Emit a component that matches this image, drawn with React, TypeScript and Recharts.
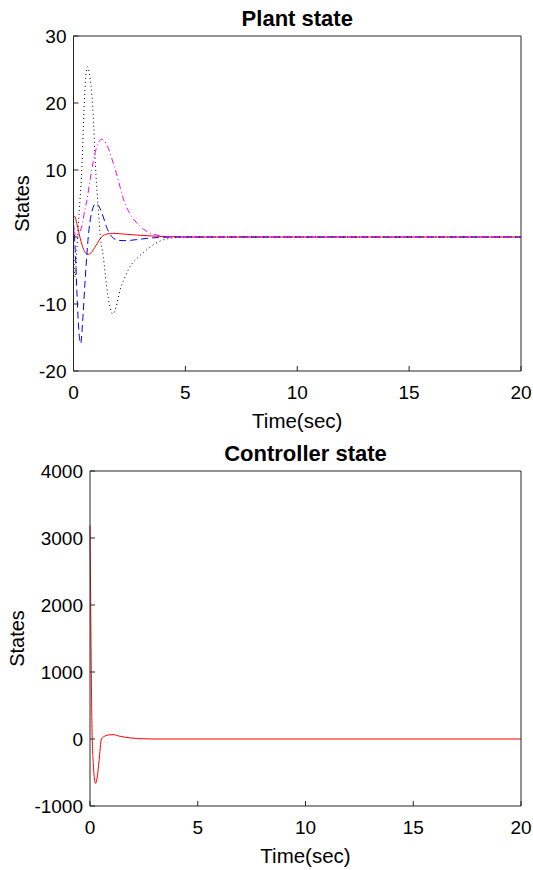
import { LineChart, Line, XAxis, YAxis } from "recharts";

const xTicks = [0, 5, 10, 15, 20];
const plantTicks = [-20, -10, 0, 10, 20, 30];
const ctrlTicks = [-1000, 0, 1000, 2000, 3000, 4000];

// plant state
const redT = [0, 0.07, 0.15, 0.25, 0.3, 0.4, 0.5, 0.65, 0.8, 1.0, 1.25, 1.5, 1.8, 2.2, 2.8, 3.5, 4.2, 5, 20];
const redV = [3.2, 3.0, 2.0, 0.5, -0.2, -1.4, -2.2, -2.6, -2.3, -1.3, 0, 0.45, 0.55, 0.45, 0.3, 0.15, 0.05, 0, 0];

const blueT = [0, 0.08, 0.15, 0.22, 0.32, 0.42, 0.51, 0.66, 0.8, 1.0, 1.15, 1.33, 1.5, 1.7, 2.0, 2.3, 2.8, 3.3, 3.8, 4.5, 20];
const blueV = [2, -2, -8, -13, -15.9, -12, -7, 0, 3.5, 5.0, 4.5, 3, 1.3, 0.1, -0.5, -0.55, -0.4, -0.2, -0.08, 0, 0];

const magT = [0, 0.1, 0.2, 0.3, 0.4, 0.5, 0.6, 0.74, 0.96, 1.1, 1.26, 1.45, 1.78, 2.0, 2.2, 2.5, 2.8, 3.2, 3.7, 4.5, 20];
const magV = [1, 0.3, 0.2, 0.8, 2, 4, 5.5, 8.5, 12.5, 14, 14.6, 14, 11, 8.5, 6, 3.6, 2.2, 1.0, 0.3, 0, 0];

const blackT = [0, 0.07, 0.15, 0.22, 0.3, 0.37, 0.47, 0.55, 0.63, 0.7, 0.86, 1.0, 1.1, 1.2, 1.33, 1.48, 1.63, 1.75, 1.9, 2.08, 2.3, 2.53, 2.9, 3.27, 3.87, 4.3, 5, 20];
const blackV = [-1, -6, -2, 2, 6, 10, 19, 24, 25.4, 24.5, 19.4, 9.5, 4.5, 0, -2.9, -7.4, -10.4, -11.5, -10.5, -7.9, -6, -4.4, -3, -1.9, -0.6, -0.2, 0, 0];

// controller state
const ctrlT = [0, 0.025, 0.05, 0.075, 0.1, 0.15, 0.2, 0.26, 0.33, 0.42, 0.53, 0.7, 0.9, 1.07, 1.4, 1.9, 2.5, 3, 20];
const ctrlV = [3187, 2300, 1300, 550, 50, -350, -580, -662, -580, -330, 0, 45, 62, 65, 40, 15, 3, 0, 0];

const toPoints = (ts: number[], vs: number[]) => ts.map((t, i) => ({ t, v: vs[i] }));

const plantSeries = [
  { key: "x1", data: toPoints(redT, redV), color: "#ff0000", dash: undefined },
  { key: "x2", data: toPoints(blueT, blueV), color: "#0000ff", dash: "7 4" },
  { key: "x3", data: toPoints(blackT, blackV), color: "#000000", dash: "1 3" },
  { key: "x4", data: toPoints(magT, magV), color: "#ff00ff", dash: "6 3 1 3" },
];

const ctrlSeries = [{ key: "xc", data: toPoints(ctrlT, ctrlV), color: "#ff0000", dash: undefined }];

const axisColor = "#262626";
const font = "'Liberation Sans', Arial, sans-serif";
const tickStyle = { fontSize: 19, fill: "#000" };

const StatesLabel = ({ viewBox, px }: any) => {
  const cy = viewBox.y + viewBox.height / 2;
  return (
    <text
      x={px}
      y={cy}
      transform={`rotate(-90 ${px} ${cy})`}
      textAnchor="middle"
      dominantBaseline="central"
      fontSize={20}
      fill="#000"
    >
      States
    </text>
  );
};

function Panel({ title, yTicks, series, plotLeft, labelX }: any) {
  return (
    <LineChart
      width={533}
      height={435}
      margin={{ top: 0, right: 0, bottom: 4, left: plotLeft - 60 }}
      style={{ fontFamily: font }}
    >
      <XAxis
        dataKey="t"
        type="number"
        domain={[0, 20]}
        ticks={xTicks}
        interval={0}
        height={60}
        stroke={axisColor}
        tickSize={-5}
        tickMargin={20}
        tick={tickStyle}
        label={{ value: "Time(sec)", position: "insideBottom", offset: 3, fontSize: 20.5, fill: "#000" }}
      />
      <XAxis
        xAxisId="top"
        orientation="top"
        dataKey="t"
        type="number"
        domain={[0, 20]}
        ticks={xTicks}
        interval={0}
        height={36}
        stroke={axisColor}
        tickSize={-5}
        tick={false}
        label={{ value: title, position: "insideBottom", offset: 10, fontSize: 22, fontWeight: "bold", fill: "#000" }}
      />
      <YAxis
        type="number"
        domain={[yTicks[0], yTicks[yTicks.length - 1]]}
        ticks={yTicks}
        interval={0}
        width={60}
        stroke={axisColor}
        tickSize={-5}
        tickMargin={12}
        tick={tickStyle}
        label={<StatesLabel px={labelX} />}
      />
      <YAxis
        yAxisId="right"
        orientation="right"
        type="number"
        domain={[yTicks[0], yTicks[yTicks.length - 1]]}
        ticks={yTicks}
        interval={0}
        width={12}
        stroke={axisColor}
        tickSize={-5}
        tick={false}
      />
      {series.map((s: any) => (
        <Line
          key={s.key}
          data={s.data}
          dataKey="v"
          type="monotone"
          stroke={s.color}
          strokeWidth={1}
          strokeDasharray={s.dash}
          dot={false}
          activeDot={false}
          isAnimationActive={false}
        />
      ))}
    </LineChart>
  );
}

export default function App() {
  return (
    <div style={{ position: "absolute", left: 0, top: 0, width: 533, height: 870, background: "#fff" }}>
      <Panel title="Plant state" yTicks={plantTicks} series={plantSeries} plotLeft={73.5} labelX={22} />
      <Panel title="Controller state" yTicks={ctrlTicks} series={ctrlSeries} plotLeft={90} labelX={17} />
    </div>
  );
}
